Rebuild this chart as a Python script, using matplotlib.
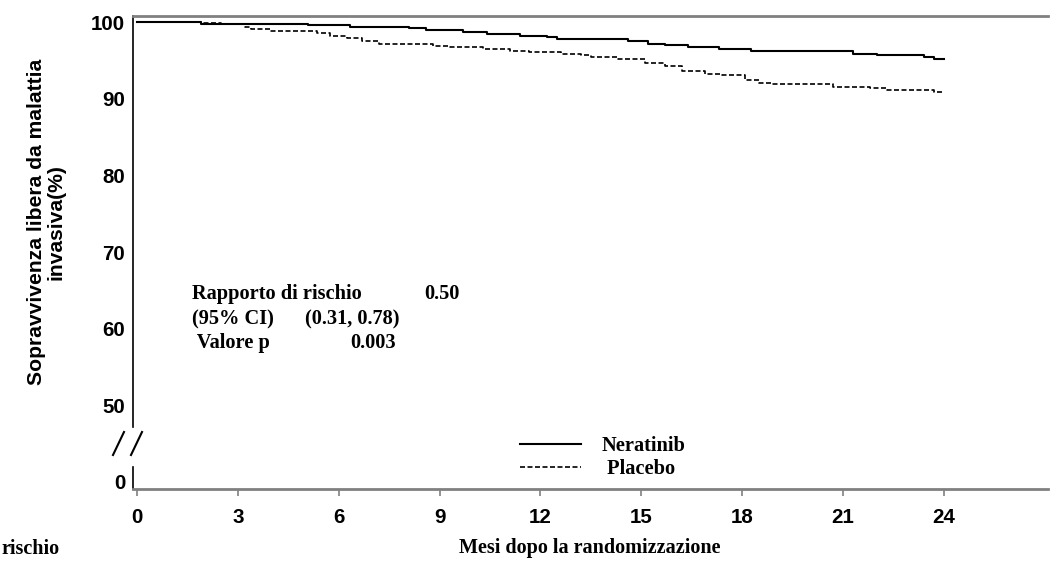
#
# Sopravvivenza libera da malattia invasiva - Neratinib vs Placebo
#
import numpy as np
import matplotlib
matplotlib.use('Agg')
import matplotlib.pyplot as plt
from matplotlib.lines import Line2D

# Data
t_nera = [0, 1.9, 5.1, 6.35, 8.1, 8.6, 9.7, 10.4, 11.4, 12.2, 12.5, 14.6, 15.2,
          15.7, 16.4, 17.3, 18.25, 21.3, 22.0, 23.4, 23.7, 24.0]
s_nera = [100, 99.8, 99.65, 99.4, 99.2, 99.0, 98.75, 98.45, 98.2, 98.0, 97.8, 97.55,
          97.2, 97.0, 96.7, 96.5, 96.2, 95.9, 95.75, 95.5, 95.2, 95.2]

t_plac = [0, 1.9, 2.5, 3.2, 3.4, 3.95, 5.35, 5.75, 6.25, 6.7, 7.2, 8.8, 9.3, 10.3,
          11.1, 11.65, 12.6, 13.2, 13.5, 14.3, 15.1, 15.7, 16.2, 16.9, 17.4, 18.1,
          18.5, 18.85, 20.7, 21.8, 22.3, 23.7, 24.0]
s_plac = [100, 99.85, 99.7, 99.35, 99.1, 98.8, 98.55, 98.25, 97.9, 97.5, 97.15, 96.85,
          96.7, 96.45, 96.25, 96.05, 95.9, 95.75, 95.5, 95.15, 94.7, 94.25, 93.6, 93.3,
          93.1, 92.5, 92.1, 91.9, 91.55, 91.35, 91.1, 90.9, 90.9]

x_ticks = [0, 3, 6, 9, 12, 15, 18, 21, 24]
y_ticks_top = [50, 60, 70, 80, 90, 100]
y_ticks_bot = [0]

stats_labels = ['Rapporto di rischio', '(95% CI)', ' Valore p']
stats_values = ['0.50', '(0.31, 0.78)', '0.003']

W, H = 1050, 561
def fx(px):
    return px / W
def fy(py):
    return 1 - py / H

sans = 'Liberation Sans'
serif = 'Liberation Serif'
gray = '#808080'

fig = plt.figure(figsize=(W / 100, H / 100), dpi=100)
ax = fig.add_axes([fx(133), fy(427), fx(1048) - fx(133), fy(16) - fy(427)])
axb = fig.add_axes([fx(133), fy(489), fx(1048) - fx(133), fy(466.7) - fy(489)])

ax.step(t_nera, s_nera, where='post', color='black', lw=1.5, label='Neratinib')
ax.step(t_plac, s_plac, where='post', color='black', lw=1.2, dashes=(3, 1.5),
        label=' Placebo')

for a in (ax, axb):
    a.set_xlim(-0.12, 27.1)
    a.spines['right'].set_visible(False)
    a.spines['left'].set_color('black')
    a.spines['left'].set_linewidth(1.2)

ax.set_ylim(47.2, 100.8)
ax.spines['bottom'].set_visible(False)
ax.spines['top'].set_color(gray)
ax.spines['top'].set_linewidth(2)
ax.set_xticks([])
ax.set_yticks(y_ticks_top)
ax.tick_params(axis='y', length=0, pad=5.5)

axb.set_ylim(-1.04, 1.86)
axb.spines['top'].set_visible(False)
axb.spines['bottom'].set_color(gray)
axb.spines['bottom'].set_linewidth(2)
axb.set_yticks(y_ticks_bot)
axb.set_xticks(x_ticks)
axb.tick_params(axis='y', length=0, pad=5.5)
axb.tick_params(axis='x', length=5, width=1.2, color=gray, pad=9)

for a in (ax, axb):
    for lab in a.get_xticklabels() + a.get_yticklabels():
        lab.set_fontfamily(sans)
        lab.set_fontweight('bold')
        lab.set_fontsize(14.8)

# axis break marks
for x0 in (113, 131):
    fig.add_artist(Line2D([fx(x0), fx(x0 + 11)], [fy(455), fy(432)],
                          transform=fig.transFigure, color='black', lw=1.5))

fig.text(fx(46), fy(222), 'Sopravvivenza libera da malattia\ninvasiva(%)',
         rotation=90, ha='center', va='center', family=sans, weight='bold',
         fontsize=15.2, linespacing=1.05)
fig.text(fx(590), fy(548), 'Mesi dopo la randomizzazione', ha='center', va='center',
         family=serif, weight='bold', fontsize=14.5)
fig.text(fx(1), fy(549), 'rischio', ha='left', va='center',
         family=serif, weight='bold', fontsize=14.5)

# hazard ratio block
row_y = [294, 319, 343]
lab_x = [192, 192, 192]
val_x = [424, 305, 350]
for lab, val, py, lx, vx in zip(stats_labels, stats_values, row_y, lab_x, val_x):
    fig.text(fx(lx), fy(py), lab, ha='left', va='center', family=serif,
             weight='bold', fontsize=14.7)
    fig.text(fx(vx), fy(py), val, ha='left', va='center', family=serif,
             weight='bold', fontsize=14.7)

fig.legend(loc='upper left', bbox_to_anchor=(fx(520), fy(436)), frameon=False,
           prop={'family': serif, 'weight': 'bold', 'size': 14.7},
           handlelength=3.0, handletextpad=1.0, labelspacing=0.15,
           borderpad=0, borderaxespad=0)

fig.savefig('out.png', dpi=100)
